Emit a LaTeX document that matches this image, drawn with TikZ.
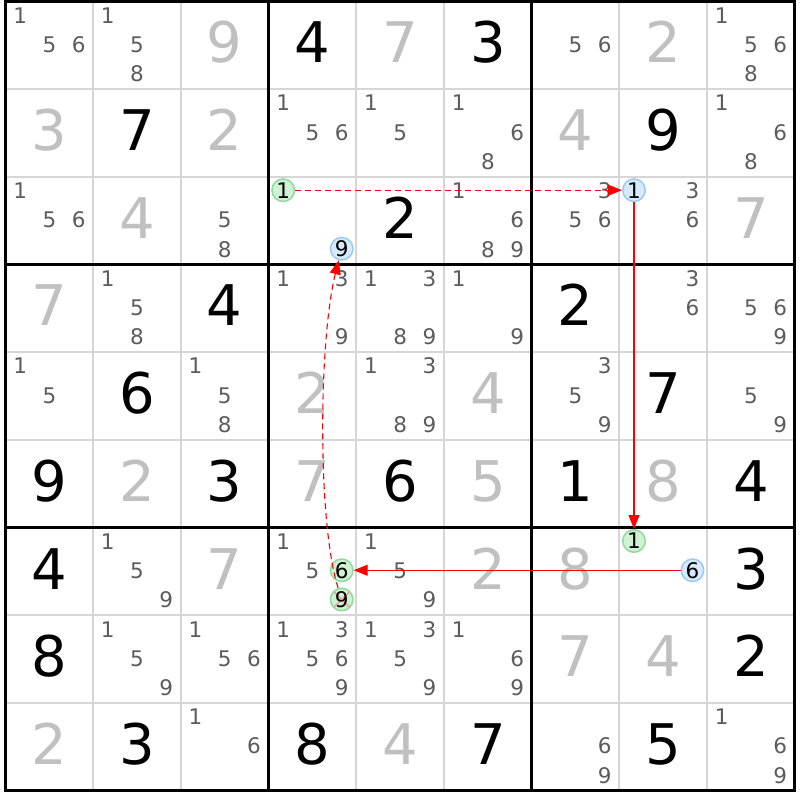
\documentclass[tikz,border=0pt]{standalone}
\usepackage{fontspec}
\setmainfont{DejaVu Sans}
\usetikzlibrary{arrows.meta}
\definecolor{givengray}{HTML}{C0C0C0}
\definecolor{pmgray}{HTML}{5C5C5C}
\definecolor{thinline}{HTML}{D6D6D6}
\definecolor{hlgreen}{HTML}{CFF2D3}
\definecolor{hlgreenline}{HTML}{8FDA9C}
\definecolor{hlblue}{HTML}{D6EAFC}
\definecolor{hlblueline}{HTML}{9CC9F2}
\definecolor{xcol}{HTML}{F2A0A0}
\definecolor{linkred}{HTML}{FF0000}
\tikzset{
  big/.style={font=\fontsize{56}{56}\selectfont, anchor=base, inner sep=0pt},
  given/.style={big, text=givengray},
  solved/.style={big, text=black},
  pm/.style={font=\fontsize{21.5}{21.5}\selectfont, text=pmgray, anchor=base, inner sep=0pt},
  hl/.style={circle, minimum size=22.5pt, inner sep=0pt, line width=1.5pt, text=black,
    font=\fontsize{21.5}{21.5}\selectfont},
  hlg/.style={hl, draw=hlgreenline, fill=hlgreen},
  hlb/.style={hl, draw=hlblueline, fill=hlblue},
  hlgx/.style={hlg, path picture={
    \draw[xcol, line width=1.6pt]
      (path picture bounding box.north west) -- (path picture bounding box.south east)
      (path picture bounding box.north east) -- (path picture bounding box.south west);}},
  thingrid/.style={thinline, line width=2pt},
  thickgrid/.style={black, line width=3pt},
  link/.style={linkred, line width=1.1pt, -{Triangle[length=14pt,width=11pt]}},
  weaklink/.style={link, dash pattern=on 6pt off 4pt},
}
\begin{document}
\begin{tikzpicture}[x=1pt,y=-1pt]
\useasboundingbox (0,0) rectangle (800,800);
\fill[white] (0,0) rectangle (800,800);
% thin grid lines
\foreach \i in {1,2,4,5,7,8}{
  \draw[thingrid] ({5.5+\i*87.7},1.5) -- ({5.5+\i*87.7},790.8);
  \draw[thingrid] (5.5,{1.5+\i*87.7}) -- (794.8,{1.5+\i*87.7});
}
% thick grid lines
\foreach \i in {0,3,6,9}{
  \draw[thickgrid] ({5.5+\i*87.7},0) -- ({5.5+\i*87.7},792.3);
  \draw[thickgrid] (4,{1.5+\i*87.7}) -- (796.3,{1.5+\i*87.7});
}
% big digits
\foreach \r/\c/\d/\s in {
  1/3/9/given, 1/5/7/given, 1/8/2/given, 2/1/3/given, 2/3/2/given, 2/7/4/given,
  3/2/4/given, 3/9/7/given, 4/1/7/given, 5/4/2/given, 5/6/4/given, 6/2/2/given,
  6/4/7/given, 6/6/5/given, 6/8/8/given, 7/3/7/given, 7/6/2/given, 7/7/8/given,
  8/7/7/given, 8/8/4/given, 9/1/2/given, 9/5/4/given,
  1/4/4/solved, 1/6/3/solved, 2/2/7/solved, 2/8/9/solved, 3/5/2/solved,
  4/3/4/solved, 4/7/2/solved, 5/2/6/solved, 5/8/7/solved, 6/1/9/solved,
  6/3/3/solved, 6/5/6/solved, 6/7/1/solved, 6/9/4/solved, 7/1/4/solved,
  7/9/3/solved, 8/1/8/solved, 8/9/2/solved, 9/2/3/solved, 9/4/8/solved,
  9/6/7/solved, 9/8/5/solved}{
  \pgfmathsetmacro\bx{5.5+(\c-0.5)*87.7}
  \pgfmathsetmacro\by{1.5+(\r-0.5)*87.7+17.5}
  \node[\s] (b\r\c) at (\bx,\by) {\d};
}
% pencil marks
\foreach \r/\c/\ds in {
  1/1/{1,5,6}, 1/2/{1,5,8}, 1/7/{5,6}, 1/9/{1,5,6,8},
  2/4/{1,5,6}, 2/5/{1,5}, 2/6/{1,6,8}, 2/9/{1,6,8},
  3/1/{1,5,6}, 3/3/{5,8}, 3/6/{1,6,8,9}, 3/7/{3,5,6}, 3/8/{3,6},
  4/2/{1,5,8}, 4/4/{1,3,9}, 4/5/{1,3,8,9}, 4/6/{1,9}, 4/8/{3,6}, 4/9/{5,6,9},
  5/1/{1,5}, 5/3/{1,5,8}, 5/5/{1,3,8,9}, 5/7/{3,5,9}, 5/9/{5,9},
  7/2/{1,5,9}, 7/4/{1,5}, 7/5/{1,5,9},
  8/2/{1,5,9}, 8/3/{1,5,6}, 8/4/{1,3,5,6,9}, 8/5/{1,3,5,9}, 8/6/{1,6,9},
  9/3/{1,6}, 9/7/{6,9}, 9/9/{1,6,9}}{
  \foreach \k in \ds {
    \pgfmathsetmacro\px{5.5+(\c-1)*87.7+14.6+29.25*mod(\k-1,3)}
    \pgfmathsetmacro\py{1.5+(\r-1)*87.7+14.3+29.25*floor((\k-1)/3)+7.3}
    \node[pm] (p\r\c\k) at (\px,\py) {\k};
  }
}
% highlighted candidates
\foreach \r/\c/\k/\s in {3/4/1/hlg, 3/4/9/hlb, 3/8/1/hlb, 7/4/6/hlg, 7/4/9/hlgx, 7/8/1/hlg, 7/8/6/hlb}{
  \pgfmathsetmacro\px{5.5+(\c-1)*87.7+14.6+29.25*mod(\k-1,3)}
  \pgfmathsetmacro\py{1.5+(\r-1)*87.7+14.3+29.25*floor((\k-1)/3)-1}
  \node[\s] (h\r\c\k) at (\px,\py) {\k};
}
% links
\draw[weaklink] (h341) -- (h381);
\draw[link] (h381) -- (h781);
\draw[link] (h786) -- (h746);
\draw[weaklink] (h749) .. controls (317,521) and (319,338) .. (h349);
\end{tikzpicture}
\end{document}
